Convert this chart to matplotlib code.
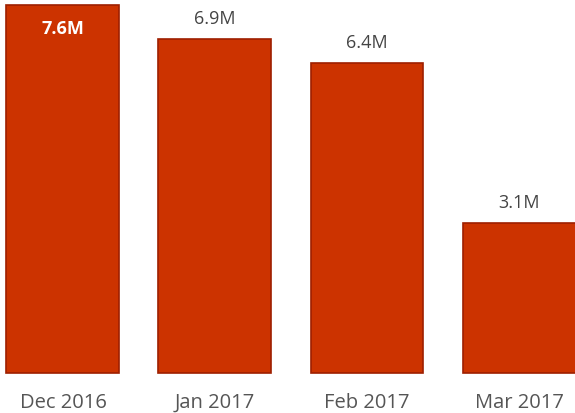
import matplotlib.pyplot as plt
import numpy as np

months = ['Dec 2016', 'Jan 2017', 'Feb 2017', 'Mar 2017']
values = [7.6, 6.9, 6.4, 3.1]  # millions
labels = ['7.6M', '6.9M', '6.4M', '3.1M']

plt.rcParams['font.family'] = ['Open Sans', 'DejaVu Sans']

fig = plt.figure(figsize=(5.75, 4.14), dpi=100)
ax = fig.add_axes([0, 0, 1, 1])

x = np.arange(len(months))
bars = ax.bar(x, values, width=0.743, color='#cc3300', edgecolor='#9e1f00', linewidth=1.2)

for i, (b, v, lab) in enumerate(zip(bars, values, labels)):
    cx = b.get_x() + b.get_width() / 2
    if i == 0:
        # tallest bar: label sits inside the bar
        ax.annotate(lab, (cx, v), xytext=(0, -23), textcoords='offset pixels',
                    ha='center', va='center', color='white', fontsize=13, fontweight='bold')
    else:
        ax.annotate(lab, (cx, v), xytext=(0, 21), textcoords='offset pixels',
                    ha='center', va='center', color='#444444', fontsize=13)
    ax.annotate(months[i], (cx, 0), xytext=(0, -29), textcoords='offset pixels',
                ha='center', va='center', color='#555555', fontsize=14.5)

ax.set_xlim(-0.414, 3.368)
ax.set_ylim(-0.826, 7.724)
ax.axis('off')

fig.savefig('out.png', dpi=100)
